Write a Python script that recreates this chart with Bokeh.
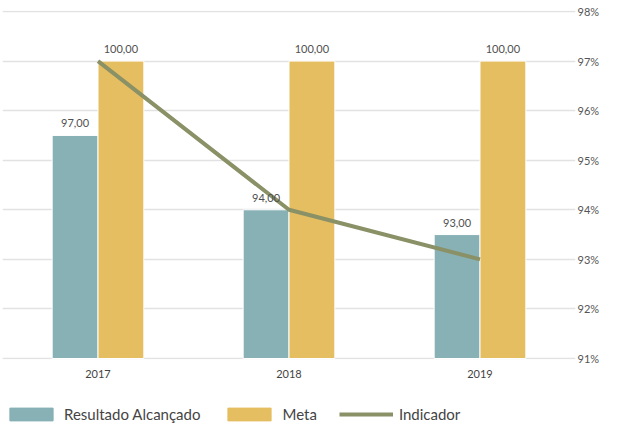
from bokeh.plotting import figure
from bokeh.layouts import column
from bokeh.models import (ColumnDataSource, FactorRange, Range1d, LabelSet, Legend,
                          LegendItem, FixedTicker, PrintfTickFormatter)
from bokeh.core.properties import value
from bokeh.transform import dodge
from bokeh.embed import file_html
from bokeh.resources import INLINE

years = ["2017", "2018", "2019"]
resultado = [97, 94, 93]
meta = [100, 100, 100]
indicador = [97, 94, 93]
pct_ticks = [91, 92, 93, 94, 95, 96, 97, 98]
series_names = ["Resultado Alcançado", "Meta", "Indicador"]

TEAL = "#87b1b5"
GOLD = "#e5be61"
OLIVE = "#8a9167"
FONT = "Lato"

def fmt(v):
    return f"{v:.2f}".replace(".", ",")

src = ColumnDataSource(dict(
    years=years, resultado=resultado, meta=meta, indicador=indicador,
    res_lbl=[fmt(v) for v in resultado], meta_lbl=[fmt(v) for v in meta],
))

eps = 0.02
p = figure(width=602, height=390, x_range=FactorRange(*years, range_padding=0),
           y_range=Range1d(91 - eps, 98 + eps), y_axis_location="right",
           output_backend="svg", toolbar_location=None,
           min_border_left=2, min_border_top=10, min_border_right=20, min_border_bottom=31)
p.extra_y_ranges = {"bars": Range1d(88 - 2 * eps, 102 + 2 * eps)}
p.outline_line_color = None
p.background_fill_color = "white"
p.border_fill_color = "white"

p.vbar(x=dodge("years", -0.12, range=p.x_range), top="resultado", bottom=88, width=0.24,
       source=src, color=TEAL, line_color="white", line_width=1, y_range_name="bars")
p.vbar(x=dodge("years", 0.12, range=p.x_range), top="meta", bottom=88, width=0.24,
       source=src, color=GOLD, line_color="white", line_width=1, y_range_name="bars")
p.line(x="years", y="indicador", source=src, line_color=OLIVE, line_width=4)

for xoff, col, lbl in [(-0.12, "resultado", "res_lbl"), (0.12, "meta", "meta_lbl")]:
    p.add_layout(LabelSet(x=dodge("years", xoff, range=p.x_range), y=col, text=lbl,
                          source=src, y_range_name="bars", y_offset=8, text_align="center",
                          text_font=value(FONT), text_font_size="11px", text_color="#505050"))

p.xgrid.visible = False
p.ygrid.ticker = FixedTicker(ticks=pct_ticks)
p.ygrid.grid_line_color = "#e2e2e2"
p.ygrid.grid_line_width = 1.5

ya = p.yaxis[0]
ya.ticker = FixedTicker(ticks=pct_ticks)
ya.formatter = PrintfTickFormatter(format="%d%%")
ya.axis_line_color = None
ya.major_tick_line_color = None
ya.minor_tick_line_color = None
ya.major_tick_out = 0
ya.major_tick_in = 0
ya.minor_tick_out = 0
ya.minor_tick_in = 0
ya.major_label_standoff = 2
ya.major_label_text_font = FONT
ya.major_label_text_font_size = "11px"
ya.major_label_text_color = "#555555"

xa = p.xaxis[0]
xa.axis_line_color = None
xa.major_tick_line_color = None
xa.major_tick_out = 0
xa.major_tick_in = 0
xa.major_label_standoff = 10
xa.major_label_text_font = FONT
xa.major_label_text_font_size = "11px"
xa.major_label_text_color = "#444444"

# legend strip (dummy, hidden renderers only feed the legend swatches)
p2 = figure(width=602, height=34, x_range=Range1d(0, 1), y_range=Range1d(0, 1),
            output_backend="svg", toolbar_location=None,
            min_border_left=0, min_border_right=0, min_border_top=0, min_border_bottom=0)
p2.axis.visible = False
p2.grid.visible = False
p2.outline_line_color = None
l1 = p2.vbar(x=[0.5], top=[0.5], width=0.1, color=TEAL, visible=False)
l2 = p2.vbar(x=[0.5], top=[0.5], width=0.1, color=GOLD, visible=False)
l3 = p2.line(x=[0.4, 0.6], y=[0.5, 0.5], line_color=OLIVE, line_width=4, visible=False)

legend = Legend(items=[LegendItem(label=series_names[0], renderers=[l1]),
                       LegendItem(label=series_names[1], renderers=[l2]),
                       LegendItem(label=series_names[2], renderers=[l3])],
                location=(2, 1), orientation="horizontal",
                glyph_width=54, glyph_height=16, label_height=16, label_standoff=6,
                spacing=22, padding=0, margin=0, border_line_color=None,
                background_fill_alpha=0, inactive_fill_alpha=0, label_text_font=FONT,
                label_text_font_size="15px", label_text_color="#444444")
p2.add_layout(legend, "center")

open("out.html", "w").write(file_html(column(p, p2, spacing=0), INLINE))
